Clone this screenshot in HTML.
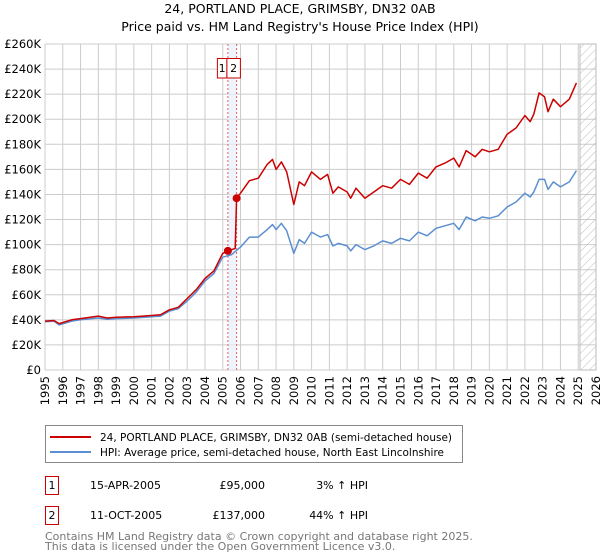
<!DOCTYPE html>
<html><head><meta charset="utf-8"><style>
body{margin:0;background:#fff;font-family:"Liberation Sans","DejaVu Sans",sans-serif;}
svg{display:block}
</style></head><body>
<svg id="c" width="600" height="560" xmlns="http://www.w3.org/2000/svg" font-family="'DejaVu Sans','Liberation Sans',sans-serif">
<defs><pattern id="hatch" width="6" height="6" patternUnits="userSpaceOnUse" patternTransform="rotate(45)"><line x1="0" y1="0" x2="0" y2="6" stroke="#bbb" stroke-width="1"/></pattern></defs>
<text x="300" y="13" text-anchor="middle" font-size="12.5">24, PORTLAND PLACE, GRIMSBY, DN32 0AB</text>
<text x="300" y="31" text-anchor="middle" font-size="12.5">Price paid vs. HM Land Registry's House Price Index (HPI)</text>
<g id="grid"></g><g id="marks"></g><g id="axes"></g>
<rect x="45.5" y="425.5" width="417" height="37" fill="#fff" stroke="#888"/>
<line x1="50" y1="437" x2="91" y2="437" stroke="#cc0000" stroke-width="2"/>
<text x="100" y="441" font-size="10.5" textLength="352" lengthAdjust="spacingAndGlyphs">24, PORTLAND PLACE, GRIMSBY, DN32 0AB (semi-detached house)</text>
<line x1="50" y1="452" x2="91" y2="452" stroke="#5b8fd0" stroke-width="2"/>
<text x="100" y="456" font-size="10.5" textLength="344" lengthAdjust="spacingAndGlyphs">HPI: Average price, semi-detached house, North East Lincolnshire</text>
<g font-size="11">
<rect x="45.5" y="476.5" width="13" height="18" fill="none" stroke="#cc0000"/><text x="52" y="489" text-anchor="middle">1</text>
<text x="90" y="489">15-APR-2005</text><text x="265" y="489" text-anchor="end">£95,000</text><text x="368" y="489" text-anchor="end">3% ↑ HPI</text>
<rect x="45.5" y="506.5" width="13" height="18" fill="none" stroke="#cc0000"/><text x="52" y="519" text-anchor="middle">2</text>
<text x="90" y="519">11-OCT-2005</text><text x="265" y="519" text-anchor="end">£137,000</text><text x="368" y="519" text-anchor="end">44% ↑ HPI</text>
</g>
<text x="45" y="540" font-size="11" fill="#777">Contains HM Land Registry data © Crown copyright and database right 2025.</text>
<text x="45" y="550" font-size="11" fill="#777">This data is licensed under the Open Government Licence v3.0.</text>
</svg>
<script>
const hpiYears=[1995,1995.5,1995.8,1996.5,1997,1998,1998.5,1999,2000,2001,2001.5,2002,2002.5,2003,2003.5,2004,2004.5,2005,2005.5,2006,2006.5,2007,2007.5,2007.8,2008,2008.3,2008.6,2009,2009.3,2009.6,2010,2010.5,2010.9,2011.2,2011.5,2012,2012.2,2012.5,2013,2013.5,2014,2014.5,2015,2015.5,2016,2016.5,2017,2017.5,2018,2018.3,2018.7,2019.2,2019.6,2020,2020.5,2021,2021.5,2022,2022.3,2022.5,2022.8,2023.1,2023.3,2023.6,2024,2024.5,2024.9];
const hpiValues=[38.5,39,36,39,40,41.5,40.5,41,41.5,42.5,43,47,49,55,62,71,77,90,92,98,106,106,112,116,112,117,111,93,104,101,110,106,108,99,101,99,95,100,96,99,103,101,105,103,110,107,113,115,117,112,122,119,122,121,123,130,134,141,138,142,152,152,144,150,146,150,159];
const priceYears=[1995,1995.5,1995.8,1996.5,1997,1998,1998.5,1999,2000,2001,2001.5,2002,2002.5,2003,2003.5,2004,2004.5,2005,2005.29,2005.7,2005.78,2006,2006.5,2007,2007.5,2007.8,2008,2008.3,2008.6,2009,2009.3,2009.6,2010,2010.5,2010.9,2011.2,2011.5,2012,2012.2,2012.5,2013,2013.5,2014,2014.5,2015,2015.5,2016,2016.5,2017,2017.5,2018,2018.3,2018.7,2019.2,2019.6,2020,2020.5,2021,2021.5,2022,2022.3,2022.5,2022.8,2023.1,2023.3,2023.6,2024,2024.5,2024.9];
const priceValues=[39,39.5,37,40,41,43,41.5,42,42.5,43.5,44,48,50,57,64,73,79,93,95,97,137,141,151,153,164,168,160,166,158,132,150,147,158,152,156,141,146,142,137,145,137,142,147,145,152,148,157,153,162,165,169,162,175,170,176,174,176,188,193,203,198,204,221,218,206,216,210,216,229];
const saleYears=[2005.29,2005.78];
const saleValues=[95,137];
const saleLabels=["1","2"];
const yTicks=[0,20,40,60,80,100,120,140,160,180,200,220,240,260];
const xTicks=[1995,1996,1997,1998,1999,2000,2001,2002,2003,2004,2005,2006,2007,2008,2009,2010,2011,2012,2013,2014,2015,2016,2017,2018,2019,2020,2021,2022,2023,2024,2025,2026];
const NS="http://www.w3.org/2000/svg";
const X0=45,X1=596,Y0=370,Y1=44;
const x=v=>X0+(v-1995)/(2026-1995)*(X1-X0);
const y=v=>Y0-(v/260)*(Y0-Y1);
function mk(p,t,a){const e=document.createElementNS(NS,t);for(const k in a)e.setAttribute(k,a[k]);p.appendChild(e);return e;}
const G=document.getElementById('grid'),M=document.getElementById('marks'),A=document.getElementById('axes');
mk(G,'rect',{x:X0,y:Y1,width:X1-X0,height:Y0-Y1,fill:'#fff'});
xTicks.forEach(t=>{const l=mk(G,'line',{x1:x(t),x2:x(t),y1:Y1,y2:Y0,stroke:'#ccc'});


const tx=mk(A,'text',{x:0,y:0,'font-size':11.5,'text-anchor':'end',transform:`translate(${x(t)+4},${Y0+6}) rotate(-90)`});tx.textContent=t;

});
yTicks.forEach(t=>{const l=mk(G,'line',{x1:X0,x2:X1,y1:y(t),y2:y(t),stroke:'#ccc'});


const tx=mk(A,'text',{x:X0-4,y:y(t)+4,'font-size':11.5,'text-anchor':'end'});tx.textContent=t===0?'£0':'£'+t+'K';

});
const hr=mk(G,'rect',{x:x(2025.1),y:Y1,width:X1-x(2025.1),height:Y0-Y1,fill:'url(#hatch)',stroke:'#bbb'});


const band=mk(G,'rect',{x:x(saleYears[0]),y:Y1,width:x(saleYears[1])-x(saleYears[0]),height:Y0-Y1,fill:'#e8eefa',opacity:0.7});


saleYears.forEach((s,i)=>{const l=mk(G,'line',{x1:x(s),x2:x(s),y1:Y1,y2:Y0,stroke:'#e06060','stroke-dasharray':'2,2'});

});
const bxs=[x(saleYears[0])-10.5,x(saleYears[0])-1];
const bws=[9.5,13.5];
saleYears.forEach((s,i)=>{
const r=mk(M,'rect',{x:bxs[i],y:58.5,width:bws[i],height:19.5,fill:'#fff',stroke:'#cc0000'});


const t=mk(M,'text',{x:bxs[i]+bws[i]/2,y:72,'font-size':11,'text-anchor':'middle'});t.textContent=saleLabels[i];

});
function path(xs,vs,col,name){const d=xs.map((v,i)=>(i?'L':'M')+x(v).toFixed(1)+','+y(vs[i]).toFixed(1)).join('');
const p=mk(M,'path',{d:d,fill:'none',stroke:col,'stroke-width':1.5,'stroke-linejoin':'round'});

}
path(hpiYears,hpiValues,'#5b8fd0','hpi-line');
path(priceYears,priceValues,'#cc0000','price-line');
saleYears.forEach((s,i)=>{const c=mk(M,'circle',{cx:x(s),cy:y(saleValues[i]),r:4,fill:'#cc0000'});

});
</script>
</body></html>
